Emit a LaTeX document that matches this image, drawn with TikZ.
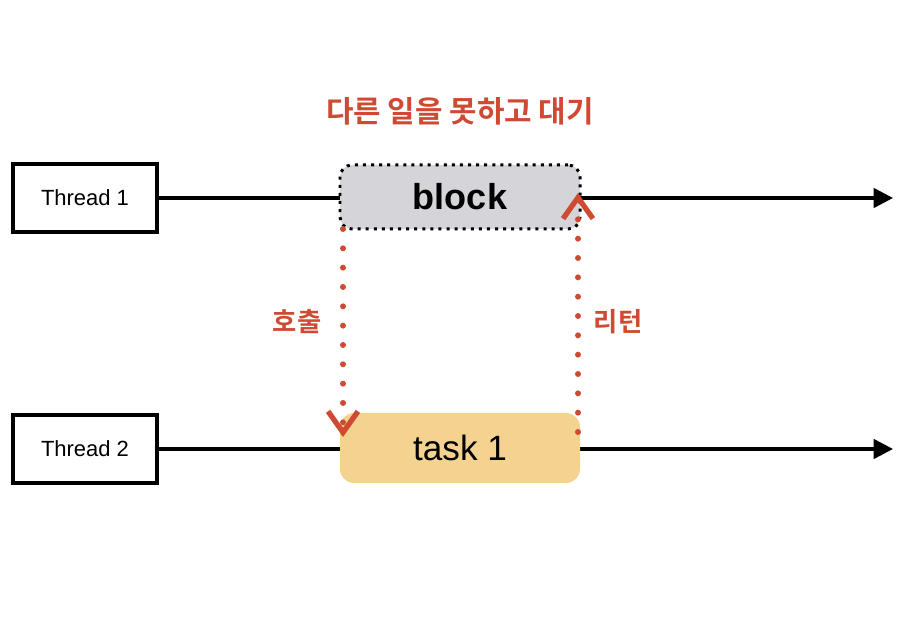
\documentclass[tikz,border=0pt]{standalone}
\usepackage{fontspec}
\setmainfont{Liberation Sans}
\newfontfamily\krfont{Noto Sans CJK KR Bold}
\usetikzlibrary{arrows.meta}
\definecolor{callred}{HTML}{CF4A32}
\definecolor{blockgray}{HTML}{D5D4D8}
\definecolor{taskyellow}{HTML}{F3D38F}

\begin{document}
\begin{tikzpicture}
      \useasboundingbox (0,0) rectangle (18.36,12.36);
      \begin{scope}[every node/.style={rectangle,draw=black,line width=2.3pt,minimum width=2.88cm,minimum height=1.36cm,font=\fontsize{12.5}{14}\selectfont}]
        \node (thA) at (1.70,8.40) {Thread 1};
        \node (thB) at (1.70,3.38) {Thread 2};
      \end{scope}
      \coordinate (endA) at (17.86,8.40);
      \coordinate (endB) at (17.86,3.38);
      \begin{scope}[line width=2pt,>={Triangle[length=11pt,width=11pt]},every edge/.style={draw=black,line width=2pt}]
        \path (thA) edge[->] (endA);
        \path (thB) edge[->] (endB);
      \end{scope}
      \node[fill=blockgray,draw=black,line width=1.7pt,dash pattern=on 1.7pt off 2.9pt,rounded corners=0.24cm,
            minimum width=4.8cm,minimum height=1.28cm,font=\fontsize{20.5}{24}\selectfont\bfseries] (blk) at (9.2,8.42) {\raisebox{-2pt}{block}};
      \node[fill=taskyellow,rounded corners=0.28cm,minimum width=4.8cm,minimum height=1.4cm,
            font=\fontsize{20}{24}\selectfont] (tsk) at (9.2,3.40) {task 1};
      \coordinate (callA) at (6.86,7.78);
      \coordinate (callB) at (6.86,3.62);
      \coordinate (retA) at (11.56,3.72);
      \coordinate (retB) at (11.56,8.50);
      \begin{scope}[>={Straight Barb[length=12pt,width=17pt,line width=3pt,line cap=butt]},
                    every edge/.style={draw=callred,line width=3.4pt,line cap=round,dash pattern=on 0pt off 11pt}]
        \path (callA) edge[->] (callB);
        \path (retA) edge[->] (retB);
      \end{scope}
      \begin{scope}[every node/.style={text=callred,font=\krfont}]
        \node (title) at (9.2,10.14) {\fontsize{17}{20}\selectfont 다른 일을 못하고 대기};
        \node (call) at (5.94,5.92) {\fontsize{15}{18}\selectfont 호출};
        \node (ret) at (12.36,5.92) {\fontsize{15}{18}\selectfont 리턴};
      \end{scope}
    \end{tikzpicture}
\end{document}
